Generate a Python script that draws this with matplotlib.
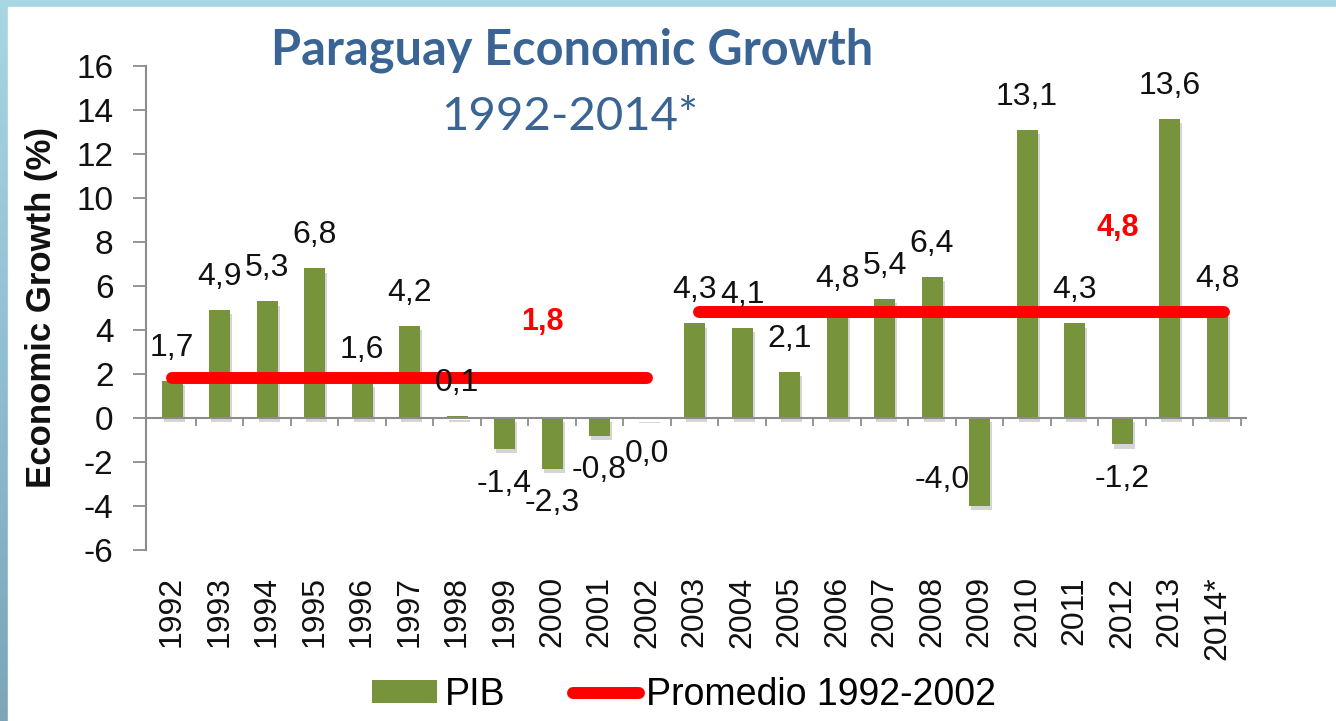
import numpy as np
import matplotlib
matplotlib.use("Agg")
import matplotlib.pyplot as plt
from matplotlib.patches import Patch, Rectangle
from matplotlib.lines import Line2D
from matplotlib.colors import LinearSegmentedColormap
import matplotlib.patheffects as pe

# data
years = ["1992", "1993", "1994", "1995", "1996", "1997", "1998", "1999",
         "2000", "2001", "2002", "2003", "2004", "2005", "2006", "2007",
         "2008", "2009", "2010", "2011", "2012", "2013", "2014*"]
pib = [1.7, 4.9, 5.3, 6.8, 1.6, 4.2, 0.1, -1.4, -2.3, -0.8, -0.04,
       4.3, 4.1, 2.1, 4.8, 5.4, 6.4, -4.0, 13.1, 4.3, -1.2, 13.6, 4.8]
prom_1 = 1.8   # promedio 1992-2002
prom_2 = 4.8   # promedio 2003-2014
yticks = list(range(-6, 17, 2))

green = "#77933C"
red = "#FF0000"
blue = "#3A6494"
gray = "#8C8C8C"
fnt = "Liberation Sans"

fig = plt.figure(figsize=(13.36, 7.21), dpi=100)

# background frame
bg = fig.add_axes([0, 0, 1, 1], zorder=-10)
bg.axis("off")
grad = np.linspace(0, 1, 256).reshape(-1, 1)
cm = LinearSegmentedColormap.from_list("bg", ["#a9d6e3", "#8fbfd2", "#7ca5b8"])
bg.imshow(grad, aspect="auto", cmap=cm, extent=[0, 1, 0, 1], origin="upper")
bg.add_patch(Rectangle((8/1336, 0), 1, 1-7/721, color="white", transform=bg.transAxes))
bg.set_xlim(0, 1)
bg.set_ylim(0, 1)

ax = fig.add_axes([146/1336, 1-550/721, 1099.6/1336, 484/721])
ax.patch.set_visible(False)
x = np.arange(len(years))

bars = ax.bar(x, pib, width=0.44, color=green, zorder=2)
for b in bars:
    b.set_path_effects([pe.SimplePatchShadow(offset=(1.5, -3), shadow_rgbFace="#777777", alpha=0.3),
                        pe.Normal()])

# average lines
ax.plot([x[0], x[10]], [prom_1, prom_1], color=red, lw=8.6, solid_capstyle="round", zorder=3)
ax.plot([x[11]+0.1, x[22]+0.15], [prom_2, prom_2], color=red, lw=8.6, solid_capstyle="round", zorder=3)
ax.text(7.8, 4.36, f"{prom_1:.1f}".replace(".", ","), color=red, fontsize=22, fontweight="bold",
        family=fnt, ha="center", va="center")
ax.text(19.9, 8.64, f"{prom_2:.1f}".replace(".", ","), color=red, fontsize=22, fontweight="bold",
        family=fnt, ha="center", va="center")

# value labels
special = {"2009": (-27, 19)}
for i, v in enumerate(pib):
    val = 0.0 if round(v, 1) == 0 else v
    txt = f"{val:.1f}".replace(".", ",")
    off = (0, 23.8) if v > 0 else (0, -25)
    off = special.get(years[i], off)
    ax.annotate(txt, (i, v), xytext=off, textcoords="offset points", ha="center", va="center",
                fontsize=23, family=fnt, color="#111111", zorder=4)

ax.set_xlim(-0.55, 22.6)
ax.set_ylim(-6, 16)
ax.set_yticks(yticks)
ax.set_yticklabels([str(t) for t in yticks], family=fnt, fontsize=24, color="#111111")
ax.tick_params(axis="y", length=9.4, width=1.3, color=gray, pad=14)

ax.spines["top"].set_visible(False)
ax.spines["right"].set_visible(False)
ax.spines["left"].set_color(gray)
ax.spines["left"].set_linewidth(1.5)
ax.spines["bottom"].set_position(("data", 0))
ax.spines["bottom"].set_color(gray)
ax.spines["bottom"].set_linewidth(1.5)

ax.set_xticks(x + 0.5)
ax.set_xticklabels([])
ax.tick_params(axis="x", which="major", length=5.8, width=1.3, color=gray)
ax.set_xticks(x, minor=True)
ax.set_xticklabels(years, minor=True, rotation=90, family=fnt, fontsize=23, color="#111111")
ax.tick_params(axis="x", which="minor", length=0, pad=114)

ax.set_ylabel("Economic Growth (%)", family=fnt, fontsize=25, fontweight="bold", color="#111111")
ax.yaxis.set_label_coords(-0.08, 0.5)

fig.text(572/1336, 1-50/721, "Paraguay Economic Growth", family="Lato", fontweight="bold",
         fontsize=35, color=blue, ha="center", va="center")
fig.text(570/1336, 1-117/721, "1992-2014*", family="Lato", fontsize=34, color=blue,
         ha="center", va="center")

handles = [Patch(facecolor=green), Line2D([], [], color=red, lw=8.6, solid_capstyle="round")]
fig.legend(handles, ["PIB", "Promedio 1992-2002"], loc="center", bbox_to_anchor=(0.512, 1-695/721),
           ncol=2, frameon=False, prop={"family": fnt, "size": 27}, handlelength=1.75,
           handletextpad=0.2, columnspacing=1.8, handleheight=0.55)

fig.savefig("out.png", dpi=100)
